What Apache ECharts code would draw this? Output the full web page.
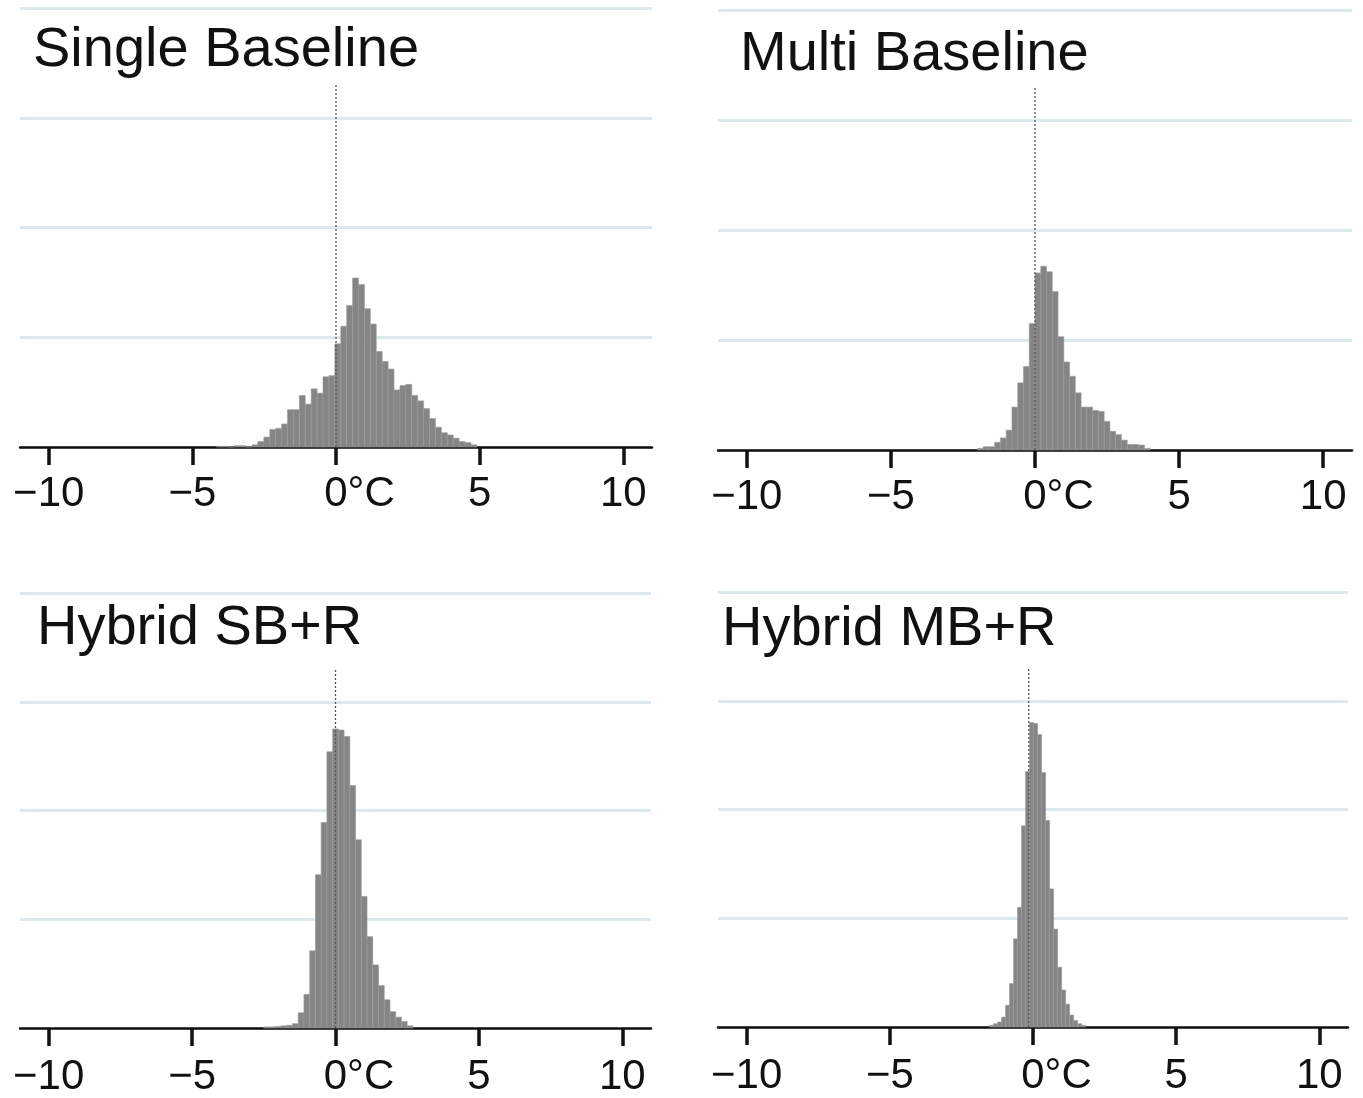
<!DOCTYPE html>
<html>
<head>
<meta charset="utf-8">
<script src="https://cdn.jsdelivr.net/npm/echarts@6/dist/echarts.min.js"></script>
<style>
  html, body { margin: 0; padding: 0; background: #ffffff; }
  #chart { width: 1363px; height: 1098px; }
</style>
</head>
<body>
<div id="chart"></div>
<script>
// ---- Panel titles ----
const panelTitles = ['Single Baseline', 'Multi Baseline', 'Hybrid SB+R', 'Hybrid MB+R'];

// ---- X tick values and labels (°C) ----
const tickValues = [-10, -5, 0, 5, 10];
const tickLabels = ['\u221210', '\u22125', '0°C', '5', '10'];

// ---- Histogram bins: first lower edge and bin width, heights per bin ----
const sbStart = -4.16, sbWidth = 0.206;
const sbHeights = [0.006, 0.006, 0, 0.012, 0.012, 0, 0.02, 0.05, 0.09, 0.16, 0.17, 0.21, 0.34, 0.34,
  0.47, 0.39, 0.53, 0.49, 0.64, 0.65, 0.94, 1.10, 1.29, 1.54, 1.48, 1.26, 1.12, 0.87, 0.78, 0.71,
  0.52, 0.56, 0.57, 0.47, 0.42, 0.35, 0.26, 0.18, 0.13, 0.11, 0.08, 0.05, 0.04, 0.02];

const mbStart = -2.0, mbWidth = 0.2;
const mbHeights = [0.015, 0.03, 0.03, 0.07, 0.11, 0.18, 0.39, 0.61, 0.76, 1.15, 1.61, 1.67, 1.62, 1.44,
  1.03, 0.80, 0.67, 0.52, 0.39, 0.39, 0.36, 0.35, 0.26, 0.17, 0.14, 0.09, 0.05, 0.05, 0.045, 0.015];

const sbrStart = -2.5, sbrWidth = 0.2;
const sbrHeights = [0.01, 0.01, 0.015, 0.02, 0.025, 0.04, 0.14, 0.31, 0.71, 1.41, 1.89, 2.54, 2.75, 2.74,
  2.68, 2.23, 1.73, 1.21, 0.84, 0.58, 0.39, 0.26, 0.15, 0.10, 0.06, 0.02];

const mbrStart = -1.52, mbrWidth = 0.14;
const mbrHeights = [0.015, 0.03, 0.046, 0.09, 0.20, 0.40, 0.81, 1.10, 1.85, 2.35, 2.80, 2.79, 2.69, 2.34,
  1.90, 1.27, 0.90, 0.55, 0.34, 0.21, 0.11, 0.06, 0.03, 0.015];

// ---- Dotted reference line position (°C) and top height ----
const refLineX = [0, 0, 0, -0.15];
const refLineTop = 3.3;

// ---- Layout (pixels) ----
const grids = [
  { left: 20, top: 8, width: 632, height: 439 },
  { left: 718, top: 10, width: 634, height: 440 },
  { left: 20, top: 593, width: 631, height: 435 },
  { left: 718, top: 592, width: 630, height: 435 }
];
const titlePos = [
  { left: 33, top: 23 },
  { left: 740, top: 27 },
  { left: 37, top: 601 },
  { left: 722, top: 602 }
];
const labelMargins = [26, 26, 28, 28];

const hist = [
  [sbStart, sbWidth, sbHeights],
  [mbStart, mbWidth, mbHeights],
  [sbrStart, sbrWidth, sbrHeights],
  [mbrStart, mbrWidth, mbrHeights]
];

const FONT = '"Liberation Sans", Arial, Helvetica, sans-serif';

function renderBar(params, api) {
  const p0 = api.coord([api.value(0), api.value(2)]);
  const p1 = api.coord([api.value(1), 0]);
  return {
    type: 'rect',
    shape: { x: p0[0], y: p0[1], width: p1[0] - p0[0], height: p1[1] - p0[1] },
    style: { fill: '#858585', stroke: '#9b9b9b', lineWidth: 0.6 }
  };
}

const option = {
  backgroundColor: '#ffffff',
  animation: false,
  title: panelTitles.map((t, i) => ({
    text: t,
    left: titlePos[i].left,
    top: titlePos[i].top,
    padding: 0,
    textStyle: { fontFamily: FONT, fontSize: 56, fontWeight: 'normal', color: '#111' }
  })),
  grid: grids.map(g => Object.assign({ containLabel: false }, g)),
  xAxis: grids.map((g, i) => ({
    type: 'value',
    gridIndex: i,
    min: -11,
    max: 11,
    splitLine: { show: false },
    axisLine: { show: true, onZero: false, lineStyle: { color: '#111', width: 2.5 } },
    axisTick: { show: true, customValues: tickValues, length: 18, lineStyle: { color: '#111', width: 3.5 } },
    axisLabel: {
      show: true,
      customValues: tickValues,
      margin: labelMargins[i],
      fontFamily: FONT,
      fontSize: 42,
      color: '#111',
      formatter: v => {
        const k = tickValues.indexOf(v);
        const s = k >= 0 ? tickLabels[k] : '';
        return v === 0 ? '{z|' + s + '}' : s;
      },
      rich: { z: { fontFamily: FONT, fontSize: 42, color: '#111', padding: [0, 0, 0, 47] } }
    }
  })),
  yAxis: grids.map((g, i) => ({
    type: 'value',
    gridIndex: i,
    min: 0,
    max: 4,
    interval: 1,
    axisLine: { show: false },
    axisTick: { show: false },
    axisLabel: { show: false },
    splitLine: { show: true, lineStyle: { color: '#dde9ec', width: 3 } }
  })),
  series: []
};

hist.forEach((h, i) => {
  const [start, w, heights] = h;
  option.series.push({
    type: 'custom',
    xAxisIndex: i,
    yAxisIndex: i,
    renderItem: renderBar,
    encode: { x: [0, 1], y: 2 },
    data: heights.map((v, k) => [start + k * w, start + (k + 1) * w, v]),
    z: 2
  });
  option.series.push({
    type: 'line',
    xAxisIndex: i,
    yAxisIndex: i,
    symbol: 'none',
    data: [[refLineX[i], 0], [refLineX[i], refLineTop]],
    lineStyle: { type: [2, 2], color: '#555', width: 1.3 },
    z: 3
  });
});

const chart = echarts.init(document.getElementById('chart'), null, { renderer: 'canvas' });
chart.setOption(option);
</script>
</body>
</html>
